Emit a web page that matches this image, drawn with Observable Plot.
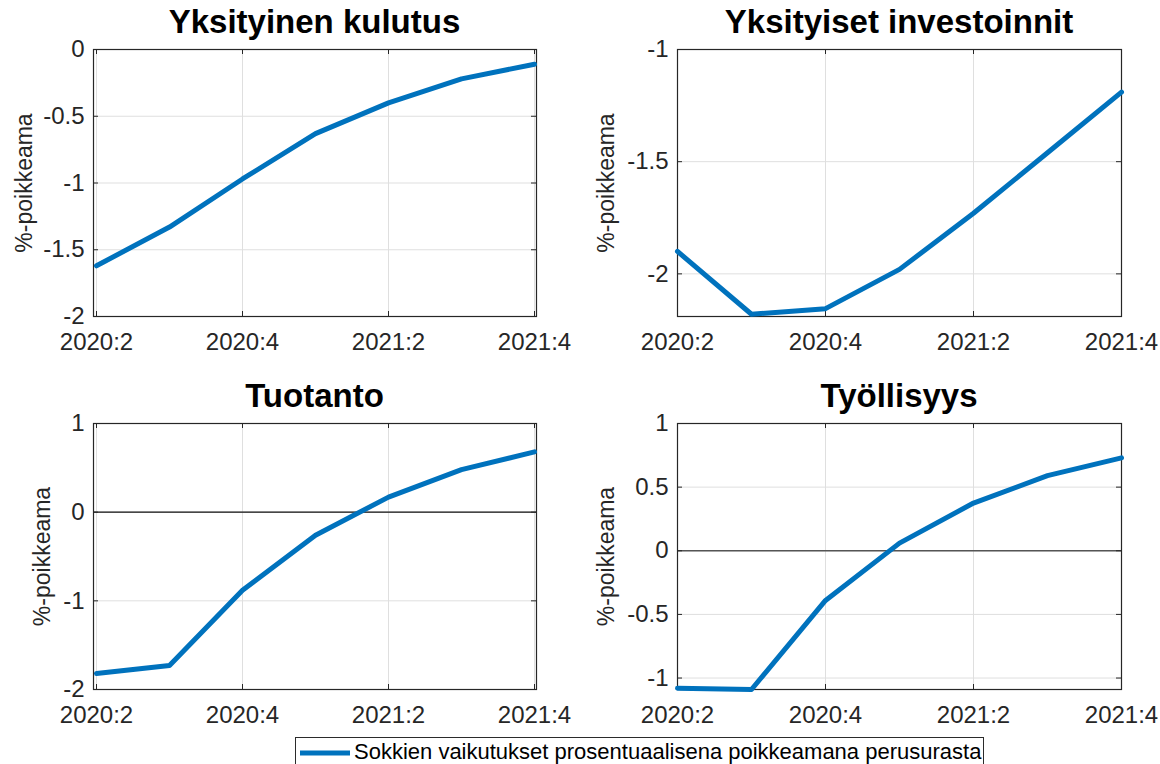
<!DOCTYPE html>
<html>
<head>
<meta charset="utf-8">
<script src="https://cdn.jsdelivr.net/npm/d3@7"></script>
<script src="https://cdn.jsdelivr.net/npm/@observablehq/plot@0.6"></script>
<style>
  html, body { margin: 0; padding: 0; background: #fff; overflow: hidden; }
  #root { position: relative; width: 1160px; height: 764px; overflow: hidden;
          font-family: "Liberation Sans", Arial, Helvetica, sans-serif; }
  .panel { position: absolute; }
  .title { position: absolute; font-weight: bold; font-size: 33px; line-height: 33px;
           color: #000; text-align: center; white-space: nowrap; }
  .legend { position: absolute; left: 295px; top: 737px; width: 687px; height: 40px;
            border: 1px solid #2b2b2b; background: #fff; }
  .legend svg { position: absolute; left: 3px; top: 10px; }
  .legend span { position: absolute; left: 58px; top: 3px; font-size: 22px; line-height: 22px;
                 color: #000; white-space: nowrap; }
</style>
</head>
<body>
<div id="root"></div>
<script>
// ---- data ----
const quarters = ["2020:2", "2020:3", "2020:4", "2021:1", "2021:2", "2021:3", "2021:4"];
const xTicks = ["2020:2", "2020:4", "2021:2", "2021:4"];
const titles = ["Yksityinen kulutus", "Yksityiset investoinnit", "Tuotanto", "Työllisyys"];
const kulutus = [-1.62, -1.33, -0.97, -0.63, -0.40, -0.22, -0.11];
const investoinnit = [-1.90, -2.18, -2.155, -1.98, -1.73, -1.46, -1.19];
const tuotanto = [-1.82, -1.73, -0.88, -0.26, 0.17, 0.48, 0.68];
const tyollisyys = [-1.08, -1.09, -0.39, 0.06, 0.375, 0.59, 0.73];
const yTicks1 = [-2, -1.5, -1, -0.5, 0];
const yTicks2 = [-2, -1.5, -1];
const yTicks3 = [-2, -1, 0, 1];
const yTicks4 = [-1, -0.5, 0, 0.5, 1];
const yDomain1 = [-2, 0];
const yDomain2 = [-2.19, -1];
const yDomain3 = [-2, 1];
const yDomain4 = [-1.09, 1];
const yLabel = "%-poikkeama";
const legendLabel = "Sokkien vaikutukset prosentuaalisena poikkeamana perusurasta";

// ---- layout / style ----
const FONT = '"Liberation Sans", Arial, Helvetica, sans-serif';
const BLUE = "#0072BD";
const AXC = "#262626";
const GRID = "#dfdfdf";
const MT = 12, MB = 44;
const layout = [
  {left: 0,   top: 49,  ml: 93, mr: 44, innerH: 267, labelDx: -69, zero: null},
  {left: 580, top: 49,  ml: 97, mr: 39, innerH: 267, labelDx: -71, zero: null},
  {left: 0,   top: 423, ml: 93, mr: 44, innerH: 266, labelDx: -51, zero: "#111"},
  {left: 580, top: 423, ml: 97, mr: 39, innerH: 266, labelDx: -71, zero: "#555"}
];
const seriesList = [kulutus, investoinnit, tuotanto, tyollisyys];
const tickList = [yTicks1, yTicks2, yTicks3, yTicks4];
const domainList = [yDomain1, yDomain2, yDomain3, yDomain4];

const root = document.getElementById("root");

layout.forEach((L, i) => {
  const W = 580;
  const innerW = W - L.ml - L.mr;
  const innerH = L.innerH;
  const yTicks = tickList[i];
  const data = quarters.map((q, j) => ({q, v: seriesList[i][j]}));
  const marks = [
    Plot.gridX(xTicks, {x: d => d, stroke: GRID, strokeOpacity: 1}),
    Plot.gridY(yTicks, {y: d => d, stroke: GRID, strokeOpacity: 1})
  ];
  if (L.zero) marks.push(Plot.ruleY([0], {stroke: L.zero, strokeWidth: 1.3}));
  marks.push(
    Plot.tickX(xTicks, {x: d => d, stroke: AXC, insetBottom: innerH - 5}),
    Plot.tickX(xTicks, {x: d => d, stroke: AXC, insetTop: innerH - 5}),
    Plot.tickY(yTicks, {y: d => d, stroke: AXC, insetRight: innerW - 5}),
    Plot.tickY(yTicks, {y: d => d, stroke: AXC, insetLeft: innerW - 5}),
    Plot.frame({stroke: AXC, strokeWidth: 1.2}),
    Plot.line(data, {x: "q", y: "v", stroke: BLUE, strokeWidth: 5, strokeLinejoin: "round"}),
    Plot.axisX(xTicks, {tickSize: 0, tickPadding: 16, fontSize: 24, fill: AXC, label: null}),
    Plot.axisY(yTicks, {tickSize: 0, tickPadding: 9, fontSize: 24, fill: AXC, label: null,
                        tickFormat: d => String(d)}),
    Plot.text([yLabel], {text: d => d, frameAnchor: "left", rotate: -90, dx: L.labelDx,
                         fontSize: 23, fill: AXC, textAnchor: "middle", lineAnchor: "middle"})
  );
  const svg = Plot.plot({
    width: W,
    height: MT + innerH + MB,
    marginLeft: L.ml, marginRight: L.mr, marginTop: MT, marginBottom: MB,
    x: {type: "point", domain: quarters, padding: 0},
    y: {domain: domainList[i]},
    style: {fontFamily: FONT, fontSize: "24px", color: AXC, background: "transparent", overflow: "visible"},
    marks
  });
  const wrap = document.createElement("div");
  wrap.className = "panel";
  wrap.style.left = L.left + "px";
  wrap.style.top = (L.top - MT) + "px";
  wrap.appendChild(svg);
  root.appendChild(wrap);

  const t = document.createElement("div");
  t.className = "title";
  t.textContent = titles[i];
  t.style.left = (L.left + L.ml) + "px";
  t.style.width = innerW + "px";
  // baseline ~16px above plot top; 33px font -> baseline ~28px below div top
  t.style.top = (L.top - 16 - 28) + "px";
  root.appendChild(t);
});

// legend
const lg = document.createElement("div");
lg.className = "legend";
const sw = d3.create("svg").attr("width", 52).attr("height", 10);
sw.append("line").attr("x1", 1).attr("x2", 51).attr("y1", 5).attr("y2", 5)
  .attr("stroke", BLUE).attr("stroke-width", 5);
lg.appendChild(sw.node());
const sp = document.createElement("span");
sp.textContent = legendLabel;
lg.appendChild(sp);
root.appendChild(lg);
</script>
</body>
</html>
